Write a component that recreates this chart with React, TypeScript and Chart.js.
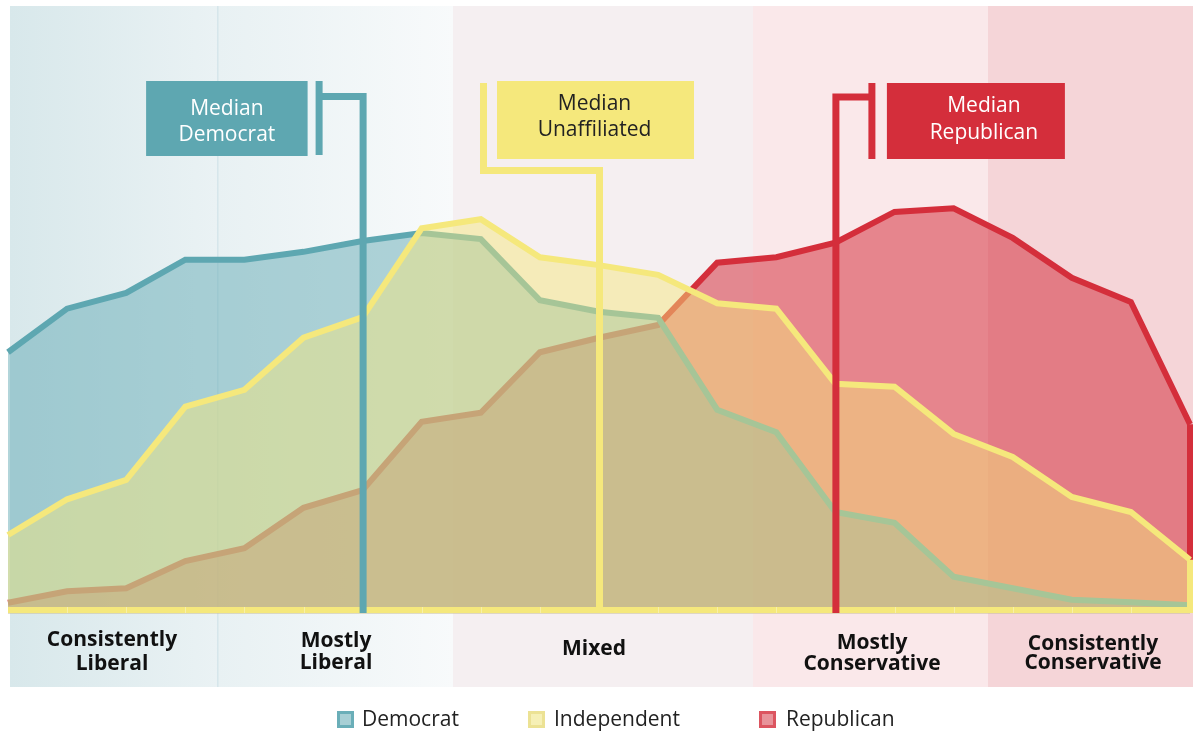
import React, { useEffect, useRef } from "react";
import { Chart, registerables } from "chart.js";

Chart.register(...registerables);

// ---- data ----
const positions = ["-10", "-9", "-8", "-7", "-6", "-5", "-4", "-3", "-2", "-1", "0", "1", "2", "3", "4", "5", "6", "7", "8", "9", "10"];
const democratValues = [42.6, 49.8, 52.4, 57.9, 57.9, 59.2, 61.0, 62.3, 61.3, 51.2, 49.3, 48.3, 33.1, 29.4, 16.2, 14.4, 5.5, 3.6, 1.7, 1.3, 0.8];
const independentValues = [12.4, 18.3, 21.5, 33.6, 36.4, 45.0, 48.4, 63.1, 64.6, 58.3, 57.0, 55.4, 50.7, 49.8, 37.4, 36.9, 29.1, 25.3, 18.7, 16.2, 8.3];
const republicanValues = [1.2, 3.1, 3.6, 8.1, 10.2, 16.9, 19.8, 31.1, 32.6, 42.6, 45.0, 47.1, 57.4, 58.3, 60.7, 65.8, 66.4, 61.5, 54.9, 50.9, 30.7];
const seriesNames = ["Democrat", "Independent", "Republican"];
const medianPositions = ["-4", "0", "4"];
const medianLabels = [["Median", "Democrat"], ["Median", "Unaffiliated"], ["Median", "Republican"]];
const bandLabels = [["Consistently", "Liberal"], ["Mostly", "Liberal"], ["Mixed"], ["Mostly", "Conservative"], ["Consistently", "Conservative"]];

// ---- styles / layout ----
const W = 1193;
const H = 735;
const FONT = '"Open Sans", "Noto Sans", sans-serif';
const DEM = "#5ea7b1";
const IND = "#f5e87c";
const REP = "#d42e3b";
const BAND_EDGES = [10, 218, 453, 753, 988, 1193];
const BAND_TOP = 6;
const BAND_BOTTOM = 687;
const BAND_COLORS = [
  ["#d8e8eb", "#eaf2f4"],
  ["#e8f1f3", "#f8fafb"],
  ["#f5eff1", "#f5eff1"],
  ["#fae8ea", "#fae8ea"],
  ["#f5d5d8", "#f5d5d8"],
];
const LABEL_CENTERS = [112, 336, 594, 872, 1093];
const LABEL_BASELINES = [[646, 670], [647, 669], [655], [649, 670], [650, 669]];

// flag geometry relative to the median stem x
const FLAGS = [
  { color: DEM, text: "#ffffff", hy: 96.5, bar: -44, barTop: 81, barBottom: 155, boxL: -217, boxR: -55.5, boxT: 81, boxB: 156, tx: 0, base: [114.5, 140.5] },
  { color: IND, text: "#222222", hy: 170.5, bar: -116, barTop: 83, barBottom: 174, boxL: -102.5, boxR: 94.5, boxT: 81, boxB: 159, tx: -1, base: [109.5, 136] },
  { color: REP, text: "#ffffff", hy: 97, bar: 36, barTop: 83, barBottom: 159, boxL: 51, boxR: 229, boxT: 83, boxB: 159, tx: 8, base: [112, 138.5] },
];

const LEGEND = [
  { box: 337, text: 362, fill: "#a7cfd5", stroke: "#6aaeb8" },
  { box: 528, text: 554, fill: "#f6f0b6", stroke: "#ece294" },
  { box: 759, text: 786, fill: "#e8939a", stroke: "#dc5560" },
];

const decor = {
  id: "decor",
  beforeDraw(chart: any) {
    const ctx = chart.ctx as CanvasRenderingContext2D;
    ctx.save();
    ctx.fillStyle = "#ffffff";
    ctx.fillRect(0, 0, W, H);
    for (let i = 0; i < BAND_COLORS.length; i++) {
      const x0 = BAND_EDGES[i];
      const x1 = BAND_EDGES[i + 1];
      const g = ctx.createLinearGradient(x0, 0, x1, 0);
      g.addColorStop(0, BAND_COLORS[i][0]);
      g.addColorStop(1, BAND_COLORS[i][1]);
      ctx.fillStyle = g;
      ctx.fillRect(x0, BAND_TOP, x1 - x0, BAND_BOTTOM - BAND_TOP);
    }
    ctx.fillStyle = "rgba(200,222,228,0.6)";
    ctx.fillRect(BAND_EDGES[1] - 1, BAND_TOP, 1.5, BAND_BOTTOM - BAND_TOP);
    ctx.restore();
  },
  afterDatasetDraw(chart: any, args: any) {
    const ctx = chart.ctx as CanvasRenderingContext2D;
    const ds = chart.data.datasets[args.index];
    const pts = args.meta.data;
    const yBase = chart.scales.y.getPixelForValue(0);
    const first = pts[0];
    const last = pts[pts.length - 1];
    ctx.save();
    ctx.strokeStyle = ds.borderColor;
    ctx.lineWidth = 6;
    ctx.lineJoin = "miter";
    ctx.beginPath();
    ctx.moveTo(last.x, last.y);
    ctx.lineTo(last.x, yBase);
    ctx.lineTo(first.x, yBase);
    ctx.stroke();
    if (ds.label === "Independent") {
      ctx.strokeStyle = "rgba(255,255,255,0.35)";
      ctx.lineWidth = 1;
      for (let i = 1; i < pts.length - 1; i++) {
        ctx.beginPath();
        ctx.moveTo(Math.round(pts[i].x) + 0.5, yBase - 3);
        ctx.lineTo(Math.round(pts[i].x) + 0.5, yBase + 3);
        ctx.stroke();
      }
      ctx.fillStyle = "rgba(200,190,150,0.5)";
      ctx.fillRect(first.x, yBase + 3, last.x - first.x, 1);
    }
    ctx.restore();
  },
  afterDatasetsDraw(chart: any) {
    const ctx = chart.ctx as CanvasRenderingContext2D;
    const xs = chart.scales.x;
    const yBase = chart.scales.y.getPixelForValue(0);
    ctx.save();
    medianPositions.forEach((m, i) => {
      const f = FLAGS[i];
      const mx = xs.getPixelForValue(positions.indexOf(m)) + 0.5;
      ctx.strokeStyle = f.color;
      ctx.lineWidth = 7;
      ctx.lineJoin = "miter";
      ctx.lineCap = "butt";
      ctx.beginPath();
      ctx.moveTo(mx, yBase + 3);
      ctx.lineTo(mx, f.hy);
      ctx.lineTo(mx + f.bar, f.hy);
      ctx.stroke();
      ctx.beginPath();
      ctx.moveTo(mx + f.bar, f.barTop);
      ctx.lineTo(mx + f.bar, f.barBottom);
      ctx.stroke();
      ctx.fillStyle = f.color;
      ctx.fillRect(mx + f.boxL, f.boxT, f.boxR - f.boxL, f.boxB - f.boxT);
      ctx.fillStyle = f.text;
      ctx.font = `21px ${FONT}`;
      ctx.textAlign = "center";
      ctx.textBaseline = "alphabetic";
      const cx = mx + (f.boxL + f.boxR) / 2 + f.tx;
      medianLabels[i].forEach((t, j) => ctx.fillText(t, cx, f.base[j]));
    });
    ctx.restore();
  },
  afterDraw(chart: any) {
    const ctx = chart.ctx as CanvasRenderingContext2D;
    ctx.save();
    ctx.fillStyle = "#111111";
    ctx.font = `bold 21px ${FONT}`;
    ctx.textAlign = "center";
    ctx.textBaseline = "alphabetic";
    bandLabels.forEach((lines, i) => {
      lines.forEach((t, j) => ctx.fillText(t, LABEL_CENTERS[i], LABEL_BASELINES[i][j]));
    });
    // legend
    ctx.font = `21px ${FONT}`;
    ctx.textAlign = "left";
    ctx.textBaseline = "middle";
    seriesNames.forEach((name, i) => {
      const l = LEGEND[i];
      ctx.fillStyle = l.fill;
      ctx.fillRect(l.box, 711, 17, 17);
      ctx.strokeStyle = l.stroke;
      ctx.lineWidth = 3;
      ctx.strokeRect(l.box + 1.5, 712.5, 14, 14);
      ctx.fillStyle = "#222222";
      ctx.fillText(name, l.text, 720);
    });
    ctx.restore();
  },
};

export default function App() {
  const ref = useRef<HTMLCanvasElement>(null);
  useEffect(() => {
    const chart = new Chart(ref.current as HTMLCanvasElement, {
      type: "line",
      data: {
        labels: positions,
        datasets: [
          {
            label: seriesNames[0],
            data: democratValues,
            borderColor: DEM,
            backgroundColor: "rgba(94,167,177,0.48)",
            fill: "origin",
            order: 2,
          },
          {
            label: seriesNames[1],
            data: independentValues,
            borderColor: IND,
            backgroundColor: "rgba(245,230,124,0.48)",
            fill: "origin",
            order: 1,
          },
          {
            label: seriesNames[2],
            data: republicanValues,
            borderColor: REP,
            backgroundColor: "rgba(212,46,59,0.53)",
            fill: "origin",
            order: 3,
          },
        ],
      },
      options: {
        responsive: false,
        animation: false,
        devicePixelRatio: 1,
        layout: { padding: { left: 8, right: 3, top: 5, bottom: 125 } },
        scales: {
          x: { display: false },
          y: { display: false, min: 0, max: 100 },
        },
        elements: {
          point: { radius: 0, hoverRadius: 0 },
          line: { tension: 0, borderWidth: 6, borderJoinStyle: "miter" },
        },
        plugins: { legend: { display: false }, tooltip: { enabled: false } },
        events: [],
      },
      plugins: [decor],
    });
    return () => chart.destroy();
  }, []);
  return (
    <div style={{ position: "fixed", left: 0, top: 0, width: W, height: H }}>
      <canvas ref={ref} width={W} height={H} style={{ display: "block" }} />
    </div>
  );
}
